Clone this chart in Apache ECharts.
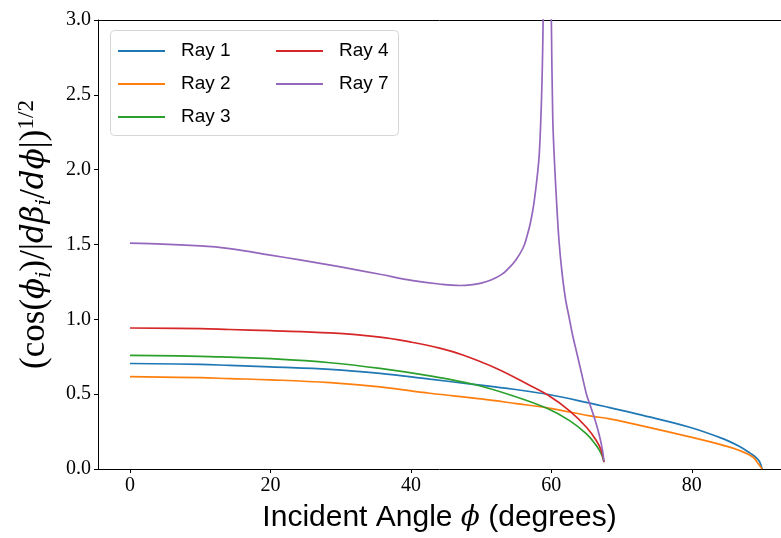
<!DOCTYPE html>
<html>
<head>
<meta charset="utf-8">
<script src="https://cdn.jsdelivr.net/npm/echarts@6/dist/echarts.min.js"></script>
<style>
    html, body { margin: 0; padding: 0; background: #fff; }
    #chart { width: 781px; height: 538px; }
</style>
</head>
<body>
<div id="chart"></div>
<script>

// Data
// ------------------------------

var rayNames = ['Ray 1', 'Ray 2', 'Ray 3', 'Ray 4', 'Ray 7'];
var rayColors = ['#1f77b4', '#ff7f0e', '#2ca02c', '#d62728', '#9467bd'];

var ray1Angle = [0, 10, 14.2, 20, 28.5, 35.6, 42.7, 48.9, 54.6, 59.8, 65.5, 68.3, 72.6, 79.7, 84.5, 86.8, 88.3, 89.2, 89.7, 90];
var ray1Value = [0.705, 0.699, 0.692, 0.682, 0.666, 0.639, 0.600, 0.566, 0.533, 0.496, 0.440, 0.410, 0.363, 0.279, 0.201, 0.150, 0.106, 0.075, 0.045, 0];

var ray2Angle = [0, 10, 14.2, 20, 28.5, 35.6, 42.7, 50, 55, 59.6, 65.5, 68.3, 72.6, 79.7, 84.5, 86.8, 88.7, 89.4, 89.8, 90];
var ray2Value = [0.617, 0.610, 0.604, 0.596, 0.577, 0.549, 0.506, 0.468, 0.437, 0.407, 0.355, 0.335, 0.292, 0.215, 0.158, 0.124, 0.080, 0.040, 0.015, 0];

var ray3Angle = [0, 10, 14.2, 20, 28.5, 35.6, 42.7, 48.9, 54.6, 59.3, 62.6, 65.0, 66.4, 67.1, 67.5];
var ray3Value = [0.759, 0.753, 0.747, 0.737, 0.710, 0.672, 0.622, 0.566, 0.488, 0.407, 0.323, 0.234, 0.157, 0.102, 0.046];

var ray4Angle = [0, 10, 14.2, 20, 28.5, 35.6, 40, 44.1, 47.4, 52.2, 56.9, 59.5, 62.6, 65.0, 66.4, 67.1, 67.5];
var ray4Value = [0.942, 0.938, 0.932, 0.924, 0.909, 0.881, 0.848, 0.808, 0.762, 0.672, 0.560, 0.494, 0.389, 0.279, 0.190, 0.124, 0.046];

// Ray 7 has a pole near 59.4 degrees: two branches
var ray7LeftAngle = [0, 10, 14.2, 20, 24.2, 30, 35.6, 40.3, 44, 47.0, 48.5, 50, 51.5, 53, 54, 55, 56, 56.5, 57, 57.5, 58, 58.3, 58.6, 58.8, 58.95];
var ray7LeftValue = [1.509, 1.491, 1.473, 1.429, 1.397, 1.350, 1.301, 1.259, 1.236, 1.226, 1.230, 1.242, 1.265, 1.302, 1.345, 1.40, 1.48, 1.55, 1.64, 1.77, 1.96, 2.12, 2.47, 2.9, 3.6];
var ray7RightAngle = [59.85, 60.0, 60.2, 60.4, 60.75, 61.1, 61.5, 62.0, 62.5, 63.0, 63.7, 64.3, 65.0, 65.5, 66.0, 66.4, 66.8, 67.1, 67.3, 67.5];
var ray7RightValue = [3.6, 3.0, 2.35, 2.10, 1.78, 1.52, 1.32, 1.14, 1.02, 0.90, 0.76, 0.64, 0.50, 0.43, 0.36, 0.30, 0.23, 0.17, 0.12, 0.05];

var xTicks = [0, 20, 40, 60, 80];


// Setup module
// ------------------------------

var RayChart = function() {

    var zip = function(xs, ys) {
        return xs.map(function(x, i) { return [x, ys[i]]; });
    };

    var _rayChart = function() {
        if (typeof echarts == 'undefined') {
            console.warn('Warning - echarts.min.js is not loaded.');
            return;
        }

        var chart_element = document.getElementById('chart');
        if (!chart_element) return;

        var chart = echarts.init(chart_element, null, { renderer: 'canvas' });

        var ray7Data = zip(ray7LeftAngle, ray7LeftValue)
            .concat([[59.4, null]])
            .concat(zip(ray7RightAngle, ray7RightValue));

        var seriesData = [
            zip(ray1Angle, ray1Value),
            zip(ray2Angle, ray2Value),
            zip(ray3Angle, ray3Value),
            zip(ray4Angle, ray4Value),
            ray7Data
        ];

        var serif = 'Liberation Serif, DejaVu Serif, serif';
        var sans = 'Liberation Sans, Arial, sans-serif';
        var math = 'DejaVu Serif, serif';

        var legendCommon = {
            orient: 'vertical',
            top: 41,
            padding: 0,
            itemGap: 13,
            itemWidth: 47,
            itemHeight: 2,
            icon: 'rect',
            z: 10,
            selectedMode: false,
            textStyle: {
                fontFamily: sans,
                fontSize: 19,
                lineHeight: 20,
                color: '#000',
                padding: [0, 0, 0, 11]
            }
        };

        chart.setOption({
            animation: false,
            color: rayColors,

            grid: {
                left: 98,
                right: 0,
                top: 20,
                bottom: 66
            },

            legend: [
                Object.assign({ left: 118, data: rayNames.slice(0, 3) }, legendCommon),
                Object.assign({ left: 276, data: rayNames.slice(3) }, legendCommon)
            ],

            graphic: [{
                type: 'rect',
                z: 9,
                shape: { x: 110.5, y: 30.5, width: 288, height: 105, r: 4 },
                style: { fill: 'rgba(255,255,255,0.8)', stroke: '#d6d6d6', lineWidth: 1 }
            }],

            xAxis: [{
                type: 'value',
                min: -4.55,
                max: 92.7,
                position: 'bottom',
                name: 'Incident Angle {m|ϕ} (degrees)',
                nameLocation: 'middle',
                nameGap: 34,
                nameTextStyle: {
                    fontFamily: sans,
                    fontSize: 30,
                    color: '#000',
                    rich: {
                        m: { fontFamily: math, fontStyle: 'italic', fontSize: 28, color: '#000' }
                    }
                },
                axisLine: { onZero: false, lineStyle: { color: '#000', width: 1 } },
                axisTick: { show: true, inside: false, length: 4, customValues: xTicks, lineStyle: { color: '#000' } },
                axisLabel: { customValues: xTicks, margin: 7, fontFamily: serif, fontSize: 20, color: '#000' },
                splitLine: { show: false }
            }, {
                type: 'value',
                min: -4.55,
                max: 92.7,
                position: 'top',
                axisLine: { show: true, onZero: false, lineStyle: { color: '#000', width: 1 } },
                axisTick: { show: false },
                axisLabel: { show: false },
                splitLine: { show: false }
            }],

            yAxis: {
                type: 'value',
                min: 0,
                max: 3,
                interval: 0.5,
                name: '{r|(cos(}{i|ϕ}{s|i}{r|)/|}{i|dβ}{s|i}{r|/}{i|dϕ}{r||)}{p|1/2}',
                nameLocation: 'middle',
                nameRotate: 90,
                nameGap: 28,
                nameTextStyle: {
                    color: '#000',
                    padding: [0, 0, 0, 20],
                    rich: {
                        r: { fontFamily: serif, fontSize: 35, lineHeight: 40, color: '#000' },
                        i: { fontFamily: math, fontStyle: 'italic', fontSize: 31, lineHeight: 40, color: '#000' },
                        s: { fontFamily: math, fontStyle: 'italic', fontSize: 20, lineHeight: 24, verticalAlign: 'bottom', color: '#000' },
                        p: { fontFamily: serif, fontSize: 23, lineHeight: 24, verticalAlign: 'top', color: '#000' }
                    }
                },
                axisLine: { show: true, onZero: false, lineStyle: { color: '#000', width: 1 } },
                axisTick: { show: true, inside: false, length: 4, lineStyle: { color: '#000' } },
                axisLabel: {
                    margin: 7,
                    fontFamily: serif,
                    fontSize: 20,
                    color: '#000',
                    formatter: function(v) { return v.toFixed(1); }
                },
                splitLine: { show: false }
            },

            series: rayNames.map(function(name, i) {
                return {
                    name: name,
                    type: 'line',
                    data: seriesData[i],
                    symbol: 'none',
                    smooth: 0.4,
                    connectNulls: false,
                    clip: true,
                    lineStyle: { width: 1.7, color: rayColors[i] },
                    z: 2 + i
                };
            })
        });
    };

    return {
        init: function() {
            _rayChart();
        }
    }
}();


// Initialize module
// ------------------------------

document.addEventListener('DOMContentLoaded', function() {
    RayChart.init();
});
</script>
</body>
</html>
